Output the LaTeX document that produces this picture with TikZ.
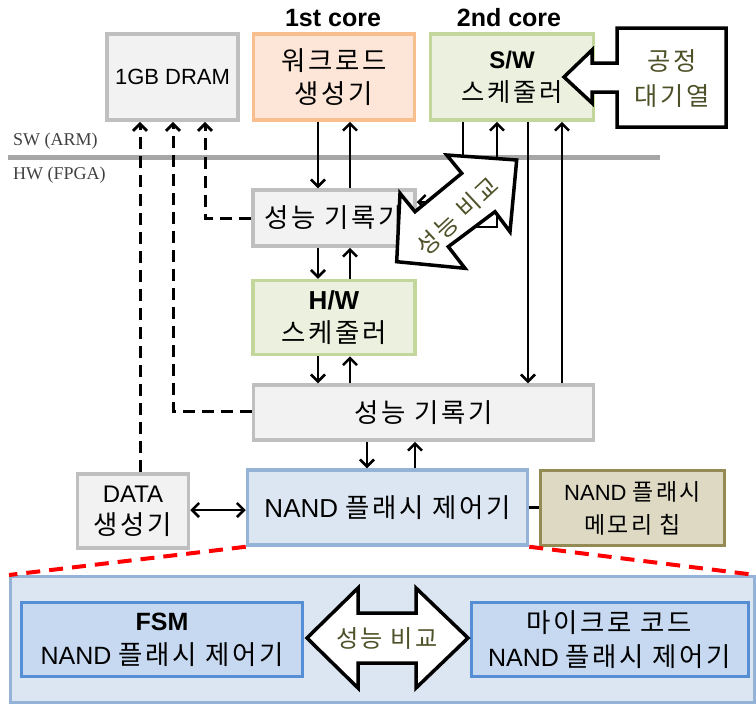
\documentclass[tikz,border=0pt]{standalone}
\usepackage{fontspec}
\setmainfont{Liberation Sans}
\newfontfamily\kr[Scale=1.15,LetterSpace=10]{Noto Sans CJK KR}
\newfontfamily\tms{Liberation Serif}
\usetikzlibrary{arrows.meta,calc}
\definecolor{grayfill}{HTML}{F2F2F2}
\definecolor{grayline}{HTML}{BFBFBF}
\definecolor{orfill}{HTML}{FDE6D8}
\definecolor{orline}{HTML}{F8BE8E}
\definecolor{grfill}{HTML}{EBF1DE}
\definecolor{grline}{HTML}{C3D69B}
\definecolor{blfill}{HTML}{DCE6F2}
\definecolor{blline}{HTML}{95B3D7}
\definecolor{chipfill}{HTML}{DDD9C3}
\definecolor{chipline}{HTML}{948A54}
\definecolor{infill}{HTML}{C6D9F1}
\definecolor{inline}{HTML}{558ED5}
\definecolor{olive}{HTML}{4F5228}
\definecolor{sepgray}{HTML}{A6A6A6}
\newcommand\ko[2][23]{{\kr\fontsize{#1}{32}\selectfont #2}}
\begin{document}
\begin{tikzpicture}[x=1pt,y=-1pt,
  box/.style={draw, line width=3.5pt, align=center, inner sep=0pt, font=\fontsize{22}{33}\selectfont},
  graybox/.style={box, draw=grayline, fill=grayfill},
  orbox/.style={box, draw=orline, fill=orfill},
  grbox/.style={box, draw=grline, fill=grfill},
  blbox/.style={box, draw=blline, fill=blfill},
  chipbox/.style={box, draw=chipline, fill=chipfill},
  inbox/.style={box, draw=inline, fill=infill},
  bigbox/.style={draw=blline, fill=blfill, line width=2.5pt, inner sep=0pt},
  arr/.style={line width=2.5pt, -{Straight Barb[length=7pt,width=14pt]}},
  darr/.style={line width=3pt, dash pattern=on 12pt off 7pt, -{Straight Barb[length=7pt,width=14pt]}},
  dbl/.style={line width=2.5pt, {Straight Barb[length=7pt,width=14pt]}-{Straight Barb[length=7pt,width=14pt]}},
  plain/.style={line width=2.5pt},
  reddash/.style={draw=red, line width=4pt, dash pattern=on 14pt off 9pt},
  blockarrow/.style={draw=black, fill=white, line width=3.5pt, line join=miter},
  lbl/.style={inner sep=0pt, font=\bfseries\fontsize{25}{30}\selectfont},
  swhw/.style={inner sep=0pt, anchor=west, font=\tms\fontsize{18}{20}\selectfont, text=black!75}
]
\useasboundingbox (0,0) rectangle (756,705);

% separator
\coordinate (sepL) at (8,157);
\coordinate (sepR) at (660,157);
\draw[sepgray, line width=5pt] (sepL) -- (sepR);
\node[swhw] (swl) at (13,141) {SW (ARM)};
\node[swhw] (hwl) at (13,175) {HW (FPGA)};

% labels
\node[lbl] (c1) at (333,18) {1st core};
\node[lbl] (c2) at (509,18) {2nd core};

% top boxes
\node[graybox, minimum width=131pt, minimum height=86pt] (dram) at (172.5,77) {1GB DRAM};
\node[orbox, minimum width=161pt, minimum height=86pt] (wl) at (334,77) {\ko{워크로드}\\\ko{생성기}};
\node[grbox, minimum width=163pt, minimum height=86pt] (sws) at (512,77) {{\bfseries\fontsize{24}{32}\selectfont S/W}\\\ko[22]{스케줄러}};

% middle column
\node[graybox, minimum width=162pt, minimum height=56pt] (pr1) at (334,218) {\ko{성능 기록기}};
\node[grbox, minimum width=162pt, minimum height=74pt] (hws) at (334,317.5) {{\bfseries\fontsize{26}{32}\selectfont H/W}\\\ko{스케줄러}};
\node[graybox, minimum width=340pt, minimum height=55pt] (pr2) at (423.5,412.5) {\ko{성능 기록기}};

% bottom row
\node[blbox, minimum width=280pt, minimum height=75pt, font=\fontsize{26}{32}\selectfont] (nand) at (387.5,507.5) {NAND \ko{플래시 제어기}};
\node[graybox, minimum width=111pt, minimum height=74pt, font=\fontsize{24}{32}\selectfont] (data) at (133,511) {DATA\\\ko{생성기}};
\node[chipbox, minimum width=184pt, minimum height=75pt] (chip) at (632.5,508) {NAND \ko[20]{플래시}\\\ko[20]{메모리 칩}};

% connectors: workload <-> pr1
\draw[arr] ([xshift=-16pt]wl.south) -- ([xshift=-16pt]wl.south |- pr1.north);
\draw[arr] ([xshift=16pt]wl.south |- pr1.north) -- ([xshift=16pt]wl.south);
% pr1 <-> hws
\draw[arr] ([xshift=-16pt]pr1.south) -- ([xshift=-16pt]pr1.south |- hws.north);
\draw[arr] ([xshift=16pt]pr1.south |- hws.north) -- ([xshift=16pt]pr1.south);
% hws <-> pr2
\draw[arr] ([xshift=-16pt]hws.south) -- ([xshift=-16pt]hws.south |- pr2.north);
\draw[arr] ([xshift=16pt]hws.south |- pr2.north) -- ([xshift=16pt]hws.south);
% sws <-> pr1 (under the comparison arrow)
\draw[arr] ([xshift=-49pt]sws.south) |- ([yshift=16pt]pr1.east);
\draw[arr] ([yshift=-9pt]pr1.east) -| ([xshift=-15pt]sws.south);
% sws <-> pr2
\draw[arr] ([xshift=16pt]sws.south) -- ([xshift=16pt]sws.south |- pr2.north);
\draw[arr] ([xshift=50pt]sws.south |- pr2.north) -- ([xshift=50pt]sws.south);
% pr2 <-> nand
\draw[arr] ([xshift=-56.5pt]pr2.south) -- ([xshift=-56.5pt]pr2.south |- nand.north);
\draw[arr] ([xshift=-8.5pt]pr2.south |- nand.north) -- ([xshift=-8.5pt]pr2.south);
% data <-> nand
\draw[dbl] ([yshift=1pt]data.east) -- ([yshift=1pt]data.east -| nand.west);
% nand -- chip
\draw[plain] (nand.east) -- (nand.east -| chip.west);

% dashed to DRAM
\draw[darr] (pr1.west) -| ([xshift=32.5pt]dram.south);
\draw[darr] ([yshift=1.5pt]pr2.west) -| ([xshift=0.5pt]dram.south);
\draw[darr] ([xshift=7pt]data.north) -- ([xshift=-32.5pt]dram.south);

% process queue callout
\draw[blockarrow] (617,28) -- (726,28) -- (726,127) -- (617,127) -- (617,92) -- (592,92) -- (592,103) -- (564,77) -- (592,50) -- (592,63) -- (617,63) -- cycle;
\node[align=center, inner sep=0pt, text=olive, font=\fontsize{22}{35}\selectfont] (queue) at (672,79) {\ko[22]{공정}\\\ko[22]{대기열}};

% diagonal comparison arrow
\draw[blockarrow] (516.7,160) -- (510,231.7) -- (495,211.7) -- (448.3,246.7) -- (465,268.3) -- (396.7,261.7) -- (400,193.3) -- (415,211.7) -- (461.7,173.3) -- (446.7,155) -- cycle;
\node[inner sep=0pt, text=olive, rotate=43] (cmp1) at (457,216) {\ko[21]{성능 비교}};

% expansion
\node[bigbox, minimum width=744pt, minimum height=126pt, anchor=north west] (big) at (9,575) {};
\draw[reddash] (nand.south west) -- (big.north west);
\draw[reddash] (nand.south east) -- (big.north east);
\node[inbox, line width=3pt, minimum width=281pt, minimum height=74pt, font=\fontsize{25}{34}\selectfont] (fsm) at (162,639.5) {{\bfseries FSM}\\NAND \ko{플래시 제어기}};
\node[inbox, line width=3pt, minimum width=277pt, minimum height=74pt, font=\fontsize{25}{34}\selectfont] (micro) at (609.5,639.5) {\ko{마이크로 코드}\\NAND \ko{플래시 제어기}};
\draw[blockarrow] (307,638) -- (358,588) -- (358,613) -- (416,613) -- (416,588) -- (468,638) -- (416,688) -- (416,663) -- (358,663) -- (358,688) -- cycle;
\node[inner sep=0pt, text=olive] (cmp2) at (387,638) {\ko[21]{성능 비교}};
\end{tikzpicture}
\end{document}
